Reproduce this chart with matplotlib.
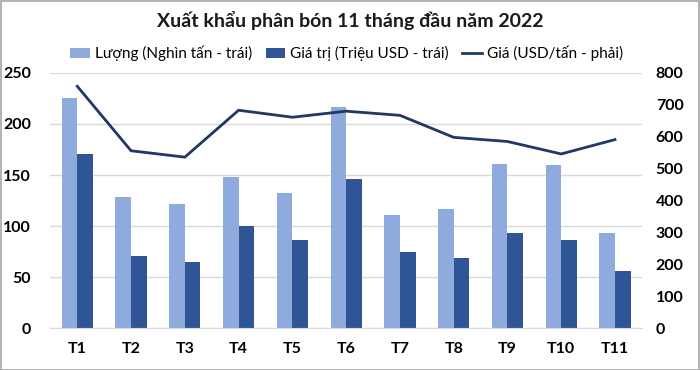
import numpy as np
import matplotlib.pyplot as plt

plt.rcParams['font.family'] = ['Lato', 'DejaVu Sans']

months = ['T1', 'T2', 'T3', 'T4', 'T5', 'T6', 'T7', 'T8', 'T9', 'T10', 'T11']
volume = [225, 128, 122, 148, 132, 217, 111, 117, 161, 160, 93]   # nghin tan
value = [171, 71, 65, 100, 86, 146, 75, 69, 93, 86, 56]           # trieu USD
price = [758, 556, 536, 683, 661, 680, 667, 598, 585, 546, 591]   # USD/tan

fig = plt.figure(figsize=(7, 3.7), dpi=100)
ax = fig.add_axes([0.072, 0.113, 0.845, 0.69])
ax2 = ax.twinx()

x = np.arange(len(months))
w = 0.29
b1 = ax.bar(x - w / 2, volume, w, color='#8FAADC', label='Lượng (Nghìn tấn - trái)', zorder=2)
b2 = ax.bar(x + w / 2, value, w, color='#2F5597', label='Giá trị (Triệu USD - trái)', zorder=2)
l1, = ax2.plot(x, price, color='#1F3864', lw=2, label='Giá (USD/tấn - phải)')

ax.set_ylim(0, 250)
ax.set_yticks(range(0, 251, 50))
ax2.set_ylim(0, 800)
ax2.set_yticks(range(0, 801, 100))
ax.set_xlim(-0.5, len(months) - 0.5)
ax.set_xticks(x)
ax.set_xticklabels(months)

ax.grid(axis='y', color='#D9D9D9', lw=1, zorder=0)
ax.set_axisbelow(True)
for a in (ax, ax2):
    for s in a.spines.values():
        s.set_visible(False)
    a.tick_params(length=0, labelsize=11.5)
    for t in a.get_xticklabels() + a.get_yticklabels():
        t.set_fontweight('bold')
ax.spines['bottom'].set_visible(True)
ax.spines['bottom'].set_color('#D9D9D9')
ax.tick_params(axis='x', pad=10)
ax.tick_params(axis='y', pad=14)
ax2.tick_params(axis='y', pad=10)

fig.text(0.5, 0.945, 'Xuất khẩu phân bón 11 tháng đầu năm 2022', ha='center', va='center',
         fontsize=14, fontweight='bold', color='#1a1a1a')
fig.legend(handles=[b1, b2, l1], loc='center', bbox_to_anchor=(0.495, 0.855), ncol=3,
           frameon=False, fontsize=11, handlelength=1.3, handletextpad=0.3, columnspacing=0.9)

fig.patches.append(plt.Rectangle((0.001, 0.001), 0.997, 0.997, transform=fig.transFigure,
                                 fill=False, edgecolor='#A6A6A6', lw=1.2))

fig.savefig('out.png', dpi=100)
